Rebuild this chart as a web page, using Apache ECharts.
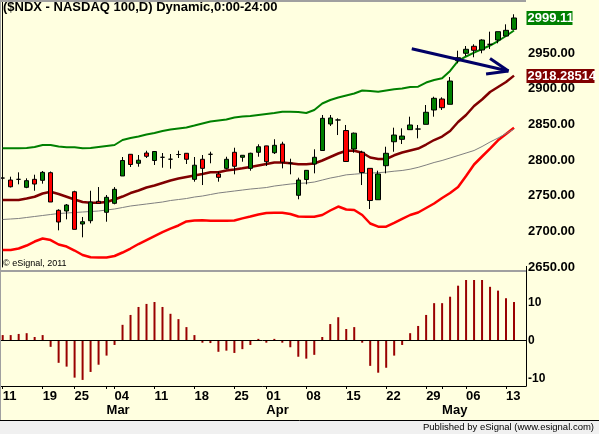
<!DOCTYPE html>
<html><head><meta charset="utf-8">
<script src="https://cdn.jsdelivr.net/npm/echarts@6/dist/echarts.min.js"></script>
<style>html,body{margin:0;padding:0;background:#FFFFE0;}#c{width:599px;height:434px;}</style>
</head><body><div id="c"></div>
<script>
// ---- data ----
const opens = [2774.7,2771.9,2772.9,2761.7,2772.9,2771.5,2782.2,2729.5,2728.5,2755.5,
  2710.3,2714.9,2742.1,2726.7,2739.3,2777.6,2808.0,2795.4,2809.8,2799.3,
  2803.8,2801.1,2807.7,2809.4,2772.9,2801.0,2808.0,2780.4,2788.3,2810.8,
  2803.8,2788.3,2810.8,2819.8,2810.2,2822.3,2795.4,2750.5,2772.6,2794.4,
  2813.3,2850.5,2856.1,2841.3,2815.4,2810.9,2788.3,2744.3,2792.0,2825.6,
  2829.0,2842.5,2843.4,2850.0,2870.1,2885.5,2878.1,2939.2,2949.6,2959.4,
  2954.2,2962.2,2968.2,2973.8,2983.2];
const closes = [2774.7,2762.5,2772.9,2771.0,2766.3,2782.7,2741.1,2713.1,2736.9,2702.8,
  2713.5,2741.1,2739.3,2747.7,2758.9,2799.3,2793.7,2799.7,2805.2,2811.9,
  2803.8,2801.1,2807.7,2801.0,2792.7,2788.3,2808.0,2775.7,2801.0,2791.2,
  2806.6,2809.4,2818.6,2797.6,2820.6,2796.9,2795.4,2771.9,2785.5,2803.8,
  2858.4,2858.9,2856.1,2797.9,2837.6,2782.5,2743.2,2780.4,2809.4,2835.0,
  2833.6,2849.1,2843.4,2866.9,2886.5,2873.3,2910.7,2943.4,2955.2,2953.8,
  2968.2,2962.2,2979.9,2981.8,2999.11];
const lows = [2767.7,2761.5,2765.9,2760.5,2756.9,2766.8,2741.1,2701.4,2716.8,2702.8,
  2691.6,2711.2,2739.3,2713.5,2737.9,2777.6,2790.2,2790.6,2802.8,2793.0,
  2789.2,2787.8,2802.8,2794.4,2769.6,2764.9,2795.4,2769.6,2786.9,2779.9,
  2797.6,2785.0,2804.6,2791.6,2808.4,2788.3,2779.9,2744.9,2765.9,2781.3,
  2813.0,2847.7,2835.0,2797.6,2810.2,2764.9,2731.3,2744.3,2781.3,2811.6,
  2822.4,2842.5,2830.4,2850.0,2860.7,2870.1,2878.1,2935.6,2945.8,2944.0,
  2949.6,2955.6,2963.6,2973.8,2983.2];
const highs = [2779.0,2776.6,2782.7,2774.3,2779.4,2784.6,2783.9,2730.9,2738.3,2756.9,
  2720.1,2756.9,2762.1,2750.9,2762.0,2804.2,2808.4,2807.0,2813.0,2812.6,
  2809.8,2808.4,2813.0,2809.8,2804.2,2807.0,2811.6,2783.6,2804.6,2817.2,
  2807.0,2810.2,2822.0,2820.0,2829.1,2825.6,2801.8,2775.2,2785.5,2815.0,
  2863.1,2863.1,2858.4,2849.1,2838.5,2813.0,2788.3,2785.0,2818.6,2845.3,
  2844.4,2860.7,2849.1,2877.1,2888.7,2887.9,2916.3,2953.2,2959.8,2962.2,
  2969.2,2979.9,2979.9,2990.2,3004.3];
const upperBand = [2816.4,2816.4,2816.4,2816.8,2818.2,2821.0,2821.0,2818.9,2817.8,2817.8,
  2816.4,2816.8,2818.2,2819.6,2821.0,2828.0,2830.8,2832.9,2835.7,2837.8,
  2840.6,2842.7,2844.1,2845.5,2848.3,2851.2,2854.0,2855.4,2856.8,2859.6,
  2861.0,2861.7,2863.1,2864.5,2865.9,2867.7,2867.7,2867.3,2865.9,2870.1,
  2879.2,2884.1,2887.6,2890.4,2893.2,2897.4,2896.7,2895.7,2897.4,2899.1,
  2900.2,2902.3,2902.8,2908.6,2912.1,2914.5,2924.8,2938.8,2945.1,2950.4,
  2955.6,2960.5,2966.8,2973.8,2981.5];
const midAvg = [2743.9,2743.9,2743.9,2746.0,2748.5,2753.0,2755.5,2752.3,2748.5,2744.6,
  2741.1,2740.1,2740.1,2741.1,2744.6,2748.8,2753.7,2757.2,2761.4,2764.2,
  2767.7,2771.2,2774.0,2776.2,2778.3,2780.4,2782.7,2782.7,2785.3,2786.7,
  2788.3,2790.2,2792.3,2794.4,2796.5,2796.5,2795.4,2794.0,2794.0,2795.1,
  2799.3,2804.2,2809.1,2813.0,2813.0,2810.2,2803.5,2801.4,2801.4,2806.6,
  2810.5,2813.3,2816.1,2821.7,2828.0,2832.9,2840.6,2853.3,2863.1,2875.7,
  2884.8,2895.3,2902.3,2909.3,2918.28514];
const grayAvg = [2716.6,2717.3,2718.0,2719.4,2720.8,2722.2,2723.6,2725.0,2725.7,2726.4,
  2727.1,2727.8,2728.5,2729.9,2731.3,2733.4,2735.5,2736.9,2738.3,2739.7,
  2741.1,2743.2,2744.6,2746.0,2748.1,2749.5,2751.6,2753.7,2755.1,2756.5,
  2757.9,2759.3,2760.3,2761.4,2763.5,2764.9,2766.3,2767.3,2767.7,2769.1,
  2771.9,2774.7,2776.8,2779.2,2780.1,2781.1,2781.6,2782.3,2783.0,2784.3,
  2785.3,2787.1,2789.7,2793.0,2796.5,2799.3,2802.8,2806.3,2809.8,2813.3,
  2818.9,2825.2,2830.8,2837.1,2843.4];
const lowerBand = [2673.8,2673.8,2675.9,2680.1,2685.7,2689.9,2687.8,2681.5,2678.7,2673.1,
  2666.8,2663.6,2663.3,2663.3,2665.4,2670.3,2675.9,2682.2,2687.8,2693.4,
  2699.0,2703.9,2708.2,2713.8,2715.2,2715.4,2714.9,2714.9,2714.9,2715.2,
  2718.2,2720.8,2723.6,2725.7,2726.1,2726.1,2724.3,2720.8,2720.5,2720.5,
  2722.9,2729.2,2734.8,2730.6,2729.9,2722.9,2711.0,2706.5,2706.5,2711.7,
  2717.3,2722.9,2726.4,2732.7,2739.0,2746.7,2753.7,2762.1,2777.6,2793.7,
  2804.9,2816.1,2827.6,2836.4,2845.3];
const oscillator = [1.4,1.4,1.7,1.9,0.9,1.4,-1.7,-5.9,-6.9,-9.8,
  -10.4,-8.3,-6.4,-4.0,-1.2,4.1,6.7,8.8,9.6,10.1,
  8.8,7.0,5.6,3.5,1.4,-0.6,-0.7,-3.0,-2.7,-3.3,
  -2.3,-1.2,0.4,-0.6,0.4,-0.6,-1.8,-4.3,-4.8,-3.8,
  0.9,4.3,6.1,3.0,3.5,-0.6,-6.7,-8.5,-7.2,-4.0,
  -1.2,1.9,3.8,6.7,9.8,9.8,11.5,14.4,15.9,15.9,
  15.9,14.1,13.1,11.1,10.1];
// x tick labels (bar index -> text)
const dayTickIdx = [0,5,9,14,19,24,29,33,38,43,48,53,58,63];
const dayTickText = ['11','19','25','04','11','18','25','01','08','15','22','29','06','13'];
const monthIdx = [13,33,55];
const monthText = ['Mar','Apr','May'];
// annotation arrow in data coords [barIndex, price]
const arrowShaft = [[51.2,2956.0],[63.3,2924.8]];
const arrowBarbUp = [[61.0,2942.3],[63.3,2924.8]];
const arrowBarbLow = [[60.5,2920.6],[63.3,2924.8]];
const titleText = '($NDX - NASDAQ 100,D) Dynamic,0:00-24:00';

// ---- build ----
const NCAT = 66;
const cats = []; for (let i = 0; i < NCAT; i++) cats.push(String(i));
const labelMap = {};
dayTickIdx.forEach((k, j) => { labelMap[k] = dayTickText[j]; });
monthIdx.forEach((k, j) => { labelMap[k] = (labelMap[k] || '') + '\n' + monthText[j]; });
const candles = opens.map((o, i) => [o, closes[i], lows[i], highs[i]]);
const FONT = "'Liberation Sans', Arial, sans-serif";
const GL = -1.3, GW = 527.3;

const chart = echarts.init(document.getElementById('c'), null, {renderer: 'canvas'});
chart.setOption({
  animation: false,
  backgroundColor: '#FFFFE0',
  textStyle: {fontFamily: FONT},
  grid: [
    {left: GL, width: GW, top: 0, height: 267, outerBoundsMode: 'none', containLabel: false},
    {left: GL, width: GW, top: 272, height: 114, outerBoundsMode: 'none', containLabel: false}
  ],
  xAxis: [
    {type: 'category', gridIndex: 0, data: cats, boundaryGap: true, show: false},
    {type: 'category', gridIndex: 1, data: cats, boundaryGap: true,
      axisLine: {show: true, onZero: false, lineStyle: {color: '#000', width: 1}},
      axisTick: {show: true, alignWithLabel: true, length: 3, lineStyle: {color: '#000'},
        interval: (i) => labelMap[i] !== undefined},
      axisLabel: {show: true, interval: (i) => labelMap[i] !== undefined,
        formatter: (v, i) => labelMap[i] || '', align: 'left', margin: 3,
        color: '#000', fontWeight: 'bold', fontSize: 13, lineHeight: 14.5, fontFamily: FONT},
      splitLine: {show: false}},
    {type: 'value', gridIndex: 0, min: -0.5, max: NCAT - 0.5, show: false}
  ],
  yAxis: [
    {type: 'value', gridIndex: 0, position: 'right', min: 2650, max: 3024.3, interval: 50,
      axisLine: {show: true, lineStyle: {color: '#000', width: 1}},
      axisTick: {show: false}, splitLine: {show: false},
      axisLabel: {margin: 2, color: '#000', fontWeight: 'bold', fontSize: 13, fontFamily: FONT,
        formatter: (v) => (v > 2950.5 ? '' : v.toFixed(2))}},
    {type: 'value', gridIndex: 1, position: 'right', min: -12, max: 18, interval: 2,
      axisLine: {show: true, lineStyle: {color: '#000', width: 1}},
      axisTick: {show: false}, splitLine: {show: false},
      axisLabel: {margin: 2, color: '#000', fontWeight: 'bold', fontSize: 12, fontFamily: FONT,
        formatter: (v) => (v === 10 || v === 0 || v === -10 ? String(v) : '')}}
  ],
  series: [
    {type: 'line', xAxisIndex: 0, yAxisIndex: 0, data: lowerBand, symbol: 'none',
      lineStyle: {color: '#FF0000', width: 2.5}, z: 2},
    {type: 'line', xAxisIndex: 0, yAxisIndex: 0, data: grayAvg, symbol: 'none',
      lineStyle: {color: '#808080', width: 1}, z: 2},
    {type: 'line', xAxisIndex: 0, yAxisIndex: 0, data: midAvg, symbol: 'none',
      lineStyle: {color: '#800000', width: 2.5}, z: 2},
    {type: 'line', xAxisIndex: 0, yAxisIndex: 0, data: upperBand, symbol: 'none',
      lineStyle: {color: '#008000', width: 2}, z: 2},
    {type: 'candlestick', xAxisIndex: 0, yAxisIndex: 0, data: candles, barWidth: 5, z: 3,
      itemStyle: {color: '#008000', color0: '#FF0000', borderColor: '#000', borderColor0: '#000',
        borderColorDoji: '#000', borderWidth: 1}},
    {type: 'line', xAxisIndex: 2, yAxisIndex: 0, data: arrowShaft, symbol: 'none',
      lineStyle: {color: '#000066', width: 3}, z: 4},
    {type: 'line', xAxisIndex: 2, yAxisIndex: 0, data: arrowBarbUp, symbol: 'none',
      lineStyle: {color: '#000066', width: 3}, z: 4},
    {type: 'line', xAxisIndex: 2, yAxisIndex: 0, data: arrowBarbLow, symbol: 'none',
      lineStyle: {color: '#000066', width: 3}, z: 4},
    {type: 'bar', xAxisIndex: 1, yAxisIndex: 1, data: oscillator, barWidth: 2,
      itemStyle: {color: '#990000'},
      markLine: {silent: true, symbol: ['none', 'none'], label: {show: false},
        lineStyle: {color: '#000', width: 1, type: 'solid'}, data: [{yAxis: 0}]}}
  ]
});

const last = closes.length - 1;
const yClose = chart.convertToPixel({yAxisIndex: 0}, closes[last]);
const yMid = chart.convertToPixel({yAxisIndex: 0}, midAvg[last]);
const tagX = 526.5;
function tag(y, text, bg, w) {
  return {type: 'group', z: 100, children: [
    {type: 'rect', shape: {x: tagX, y: Math.round(y) - 7, width: w, height: 14}, style: {fill: bg}},
    {type: 'text', x: tagX + 1, y: Math.round(y), style: {text: text, fill: '#FFFFFF',
      font: "bold 13px 'Liberation Sans', Arial, sans-serif", textAlign: 'left', textVerticalAlign: 'middle'}}
  ]};
}
chart.setOption({graphic: [
  {type: 'line', z: 50, shape: {x1: 0, y1: 1, x2: 526, y2: 1}, style: {stroke: '#A0A0A0', lineWidth: 2}},
  {type: 'line', z: 50, shape: {x1: 0.5, y1: 0, x2: 0.5, y2: 420}, style: {stroke: '#A0A0A0', lineWidth: 1}},
  {type: 'line', z: 50, shape: {x1: 0, y1: 271, x2: 526, y2: 271}, style: {stroke: '#A0A0A0', lineWidth: 2}},
  {type: 'line', z: 52, shape: {x1: 526.5, y1: 266, x2: 526.5, y2: 273}, style: {stroke: '#000', lineWidth: 1}},
  {type: 'rect', z: 50, shape: {x: 0, y: 421, width: 599, height: 13}, style: {fill: '#F0F0F0'}},
  {type: 'line', z: 51, shape: {x1: 0, y1: 420.5, x2: 599, y2: 420.5}, style: {stroke: '#000', lineWidth: 1}},
  {type: 'text', z: 51, x: 594, y: 427.5, style: {text: 'Published by eSignal (www.esignal.com)', fill: '#000',
    font: "9.5px 'Liberation Sans', Arial, sans-serif", textAlign: 'right', textVerticalAlign: 'middle'}},
  {type: 'text', z: 53, x: 3, y: 1, style: {text: titleText, fill: '#000',
    font: "bold 13px 'Liberation Sans', Arial, sans-serif", textAlign: 'left', textVerticalAlign: 'top'}},
  {type: 'text', z: 51, x: 3, y: 264, style: {text: '\u00A9 eSignal, 2011', fill: '#000',
    font: "9px 'Liberation Sans', Arial, sans-serif", textAlign: 'left', textVerticalAlign: 'middle'}},
  tag(yClose, closes[last].toFixed(2), '#008000', 46),
  tag(yMid, String(midAvg[last]), '#800000', 68)
]});
</script></body></html>
